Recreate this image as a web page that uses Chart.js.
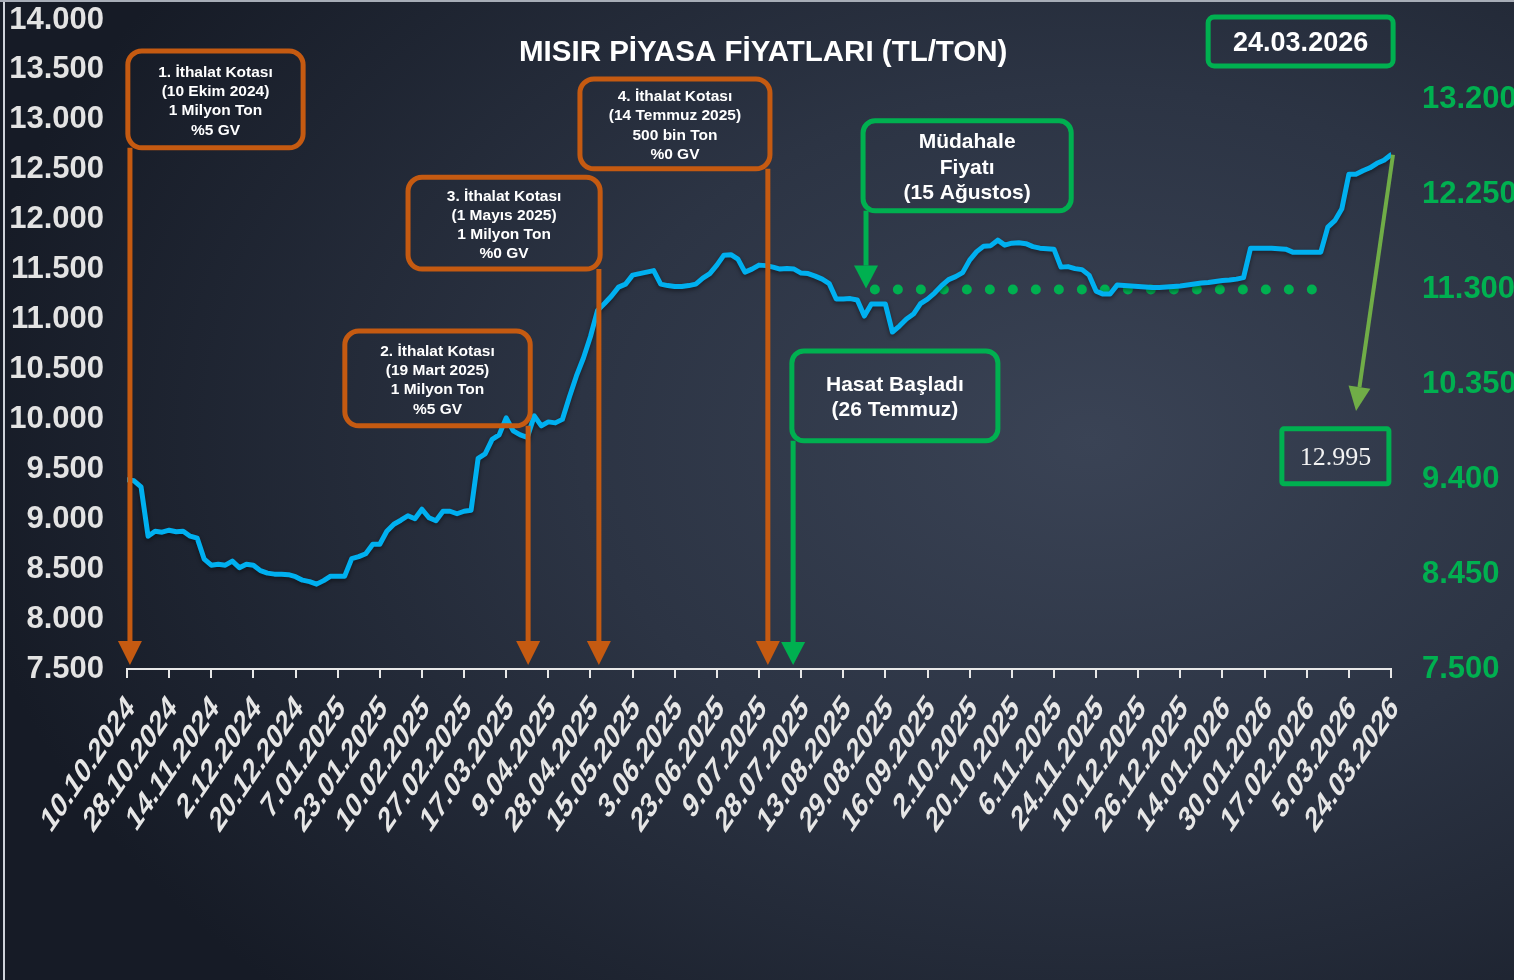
<!DOCTYPE html>
<html>
<head>
<meta charset="utf-8">
<script src="https://cdn.jsdelivr.net/npm/chart.js@4.4.1/dist/chart.umd.min.js"></script>
<style>
    html, body { margin: 0; padding: 0; }
    body {
        width: 1514px; height: 980px; overflow: hidden; position: relative;
        background: radial-gradient(ellipse 75% 80% at 72% 45%, #3a4355 0%, #2c3444 45%, #161b26 100%);
    }
    #frame-left { position: absolute; left: 3px; top: 0; width: 2px; height: 980px; background: #cfd3da; }
    #frame-top { position: absolute; left: 0; top: 0; width: 1514px; height: 2px; background: #a7adb7; }
    #chart-box { position: absolute; left: 0; top: 0; width: 1514px; height: 980px; }
</style>
</head>
<body>
<div id="chart-box"><canvas id="corn-chart"></canvas></div>
<div id="frame-left"></div>
<div id="frame-top"></div>
<script>
    "use strict";

    // tick dates on the x axis
    const dateLabels = [
        '10.10.2024', '28.10.2024', '14.11.2024', '2.12.2024', '20.12.2024', '7.01.2025',
        '23.01.2025', '10.02.2025', '27.02.2025', '17.03.2025', '9.04.2025', '28.04.2025',
        '15.05.2025', '3.06.2025', '23.06.2025', '9.07.2025', '28.07.2025', '13.08.2025',
        '29.08.2025', '16.09.2025', '2.10.2025', '20.10.2025', '6.11.2025', '24.11.2025',
        '10.12.2025', '26.12.2025', '14.01.2026', '30.01.2026', '17.02.2026', '5.03.2026',
        '24.03.2026'
    ];

    // prices, 6 readings between two date ticks
    const pointsPerLabel = 6;
    const cornPrice = [
        9395, 9385, 9325, 8830, 8880, 8870, 8890, 8875, 8880, 8830, 8810, 8600,
        8540, 8550, 8540, 8580, 8515, 8550, 8540, 8485, 8460, 8450, 8450, 8445,
        8425, 8390, 8375, 8350, 8385, 8430, 8430, 8430, 8605, 8625, 8655, 8750,
        8750, 8880, 8950, 8990, 9035, 9005, 9100, 9015, 8985, 9080, 9080, 9055,
        9080, 9090, 9610, 9655, 9800, 9845, 10015, 9885, 9845, 9820, 10035, 9935,
        9975, 9965, 10000, 10225, 10435, 10615, 10830, 11090, 11160, 11235, 11325, 11355,
        11445, 11460, 11475, 11490, 11355, 11340, 11330, 11330, 11340, 11355, 11415, 11460,
        11545, 11645, 11650, 11605, 11475, 11505, 11545, 11540, 11525, 11505, 11510, 11505,
        11465, 11460, 11435, 11405, 11360, 11205, 11205, 11210, 11195, 11035, 11155, 11155,
        11155, 10875, 10935, 11005, 11055, 11160, 11205, 11265, 11340, 11400, 11430, 11470,
        11595, 11680, 11735, 11740, 11795, 11745, 11765, 11770, 11760, 11730, 11715, 11710,
        11705, 11525, 11530, 11510, 11500, 11445, 11285, 11255, 11255, 11345, 11340, 11335,
        11330, 11325, 11320, 11320, 11325, 11330, 11335, 11345, 11355, 11365, 11370, 11380,
        11390, 11395, 11405, 11420, 11715, 11715, 11715, 11715, 11710, 11705, 11675, 11675,
        11675, 11675, 11675, 11925, 11990, 12110, 12455, 12455, 12490, 12520, 12565, 12595,
        12650
    ];

    const leftTicks = [7500, 8000, 8500, 9000, 9500, 10000, 10500, 11000, 11500, 12000, 12500, 13000, 13500, 14000];
    const rightTicks = [7500, 8450, 9400, 10350, 11300, 12250, 13200];

    const interventionPrice = 11300;
    const interventionSpan = [17.75, 28.65];

    const chartTitle = 'MISIR PİYASA FİYATLARI (TL/TON)';
    const reportDate = '24.03.2026';
    const lastQuote = '12.995';

    // callouts: box = [xFrom, xTo, yTop, yBottom] in axis units
    const quotaNotes = [
        { lines: ['1. İthalat Kotası', '(10 Ekim 2024)', '1 Milyon Ton', '%5 GV'], box: [0.02, 4.18, 13690, 12720], arrowX: 0.07 },
        { lines: ['2. İthalat Kotası', '(19 Mart 2025)', '1 Milyon Ton', '%5 GV'], box: [5.17, 9.57, 10885, 9935], arrowX: 9.52 },
        { lines: ['3. İthalat Kotası', '(1 Mayıs 2025)', '1 Milyon Ton', '%0 GV'], box: [6.67, 11.23, 12425, 11505], arrowX: 11.2 },
        { lines: ['4. İthalat Kotası', '(14 Temmuz 2025)', '500 bin Ton', '%0 GV'], box: [10.75, 15.26, 13410, 12510], arrowX: 15.21 }
    ];
    const greenNotes = [
        { lines: ['Müdahale', 'Fiyatı', '(15 Ağustos)'], box: [17.47, 22.41, 12990, 12090], arrowX: 17.54, arrowTo: 11310 },
        { lines: ['Hasat Başladı', '(26 Temmuz)'], box: [15.78, 20.67, 10685, 9785], arrowX: 15.81, arrowTo: 7540 }
    ];
    const dateBox = [25.66, 30.05, 14030, 13540];
    const quoteBox = [27.41, 29.95, 9905, 9355];
    const quoteArrowEnd = [29.17, 10085];

    const ORANGE = '#C55A11';
    const GREEN = '#00B050';
    const OLIVE = '#70AD47';
    const BLUE = '#00B0F0';
    const FONT = '"Liberation Sans", Arial, sans-serif';

    function dotted(v) {
        return String(v).replace(/\B(?=(\d{3})+(?!\d))/g, '.');
    }

    let priceSeries = cornPrice.map((v, i) => ({ x: i / pointsPerLabel, y: v }));
    let interventionSeries = interventionSpan.map(x => ({ x: x, y: interventionPrice }));

    function roundBox(ctx, x0, y0, x1, y1, r) {
        ctx.beginPath();
        ctx.moveTo(x0 + r, y0);
        ctx.arcTo(x1, y0, x1, y1, r);
        ctx.arcTo(x1, y1, x0, y1, r);
        ctx.arcTo(x0, y1, x0, y0, r);
        ctx.arcTo(x0, y0, x1, y0, r);
        ctx.closePath();
    }

    function arrow(ctx, x0, y0, x1, y1, color, width, headLen, headHalf) {
        let ang = Math.atan2(y1 - y0, x1 - x0);
        let bx = x1 - Math.cos(ang) * headLen;
        let by = y1 - Math.sin(ang) * headLen;
        ctx.strokeStyle = color;
        ctx.fillStyle = color;
        ctx.lineWidth = width;
        ctx.lineCap = 'butt';
        ctx.beginPath();
        ctx.moveTo(x0, y0);
        ctx.lineTo(bx, by);
        ctx.stroke();
        ctx.beginPath();
        ctx.moveTo(x1, y1);
        ctx.lineTo(bx + Math.sin(ang) * headHalf, by - Math.cos(ang) * headHalf);
        ctx.lineTo(bx - Math.sin(ang) * headHalf, by + Math.cos(ang) * headHalf);
        ctx.closePath();
        ctx.fill();
    }

    function textBlock(ctx, lines, cx, cy, font, lineH, color) {
        ctx.font = font;
        ctx.fillStyle = color;
        ctx.textAlign = 'center';
        ctx.textBaseline = 'middle';
        let y = cy - (lines.length - 1) * lineH / 2;
        lines.forEach(l => {
            ctx.fillText(l, cx, y);
            y += lineH;
        });
    }

    function noPadding(s) {
        s.paddingTop = 0;
        s.paddingBottom = 0;
        s.paddingLeft = 0;
        s.paddingRight = 0;
    }

    const lineShadow = {
        id: 'lineShadow',
        beforeDatasetDraw(chart, args) {
            if (args.index !== 0) return;
            let ctx = chart.ctx;
            ctx.save();
            ctx.shadowColor = 'rgba(0, 0, 0, 0.45)';
            ctx.shadowBlur = 4;
            ctx.shadowOffsetY = 2;
        },
        afterDatasetDraw(chart, args) {
            if (args.index !== 0) return;
            chart.ctx.restore();
        }
    };

    const callouts = {
        id: 'callouts',
        afterDatasetsDraw(chart) {
            let ctx = chart.ctx;
            let xs = chart.scales.x;
            let ys = chart.scales.y;
            let X = v => xs.getPixelForValue(v);
            let Y = v => ys.getPixelForValue(v);

            ctx.save();

            // date labels, slanted
            ctx.font = 'bold 24px ' + FONT;
            ctx.fillStyle = '#e6e6e6';
            ctx.textAlign = 'right';
            ctx.textBaseline = 'middle';
            dateLabels.forEach((lab, i) => {
                ctx.save();
                ctx.translate(X(i) + 4, xs.top + 34);
                ctx.scale(1, 1.46);
                ctx.rotate(-Math.PI / 4);
                ctx.fillText(lab, 0, 0);
                ctx.restore();
            });

            // title
            textBlock(ctx, [chartTitle], X(15.1), Y(13690) + 2, 'bold 29.5px ' + FONT, 30, '#ffffff');

            // import quota callouts
            quotaNotes.forEach(n => {
                let [a, b, t, u] = n.box;
                ctx.strokeStyle = ORANGE;
                ctx.lineWidth = 5;
                roundBox(ctx, X(a), Y(t), X(b), Y(u), 14);
                ctx.stroke();
                arrow(ctx, X(n.arrowX), Y(u), X(n.arrowX), Y(7540), ORANGE, 5, 24, 12);
                textBlock(ctx, n.lines, (X(a) + X(b)) / 2, (Y(t) + Y(u)) / 2 + 2, 'bold 15.5px ' + FONT, 19.3, '#ffffff');
            });

            // green callouts
            greenNotes.forEach(n => {
                let [a, b, t, u] = n.box;
                ctx.strokeStyle = GREEN;
                ctx.lineWidth = 5;
                roundBox(ctx, X(a), Y(t), X(b), Y(u), 12);
                ctx.stroke();
                arrow(ctx, X(n.arrowX), Y(u), X(n.arrowX), Y(n.arrowTo), GREEN, 5, 23, 12);
                textBlock(ctx, n.lines, (X(a) + X(b)) / 2, (Y(t) + Y(u)) / 2 + 2, 'bold 21px ' + FONT, 25.5, '#ffffff');
            });

            // report date
            ctx.strokeStyle = GREEN;
            ctx.lineWidth = 5;
            roundBox(ctx, X(dateBox[0]), Y(dateBox[2]), X(dateBox[1]), Y(dateBox[3]), 6);
            ctx.stroke();
            textBlock(ctx, [reportDate], (X(dateBox[0]) + X(dateBox[1])) / 2, (Y(dateBox[2]) + Y(dateBox[3])) / 2 + 2,
                'bold 27px ' + FONT, 30, '#ffffff');

            // last quote
            let last = cornPrice.length - 1;
            arrow(ctx, X(last / pointsPerLabel) + 2, Y(cornPrice[last]), X(quoteArrowEnd[0]), Y(quoteArrowEnd[1]),
                OLIVE, 4, 24, 11);
            ctx.strokeStyle = GREEN;
            ctx.lineWidth = 5;
            roundBox(ctx, X(quoteBox[0]), Y(quoteBox[2]), X(quoteBox[1]), Y(quoteBox[3]), 2);
            ctx.stroke();
            textBlock(ctx, [lastQuote], (X(quoteBox[0]) + X(quoteBox[1])) / 2, (Y(quoteBox[2]) + Y(quoteBox[3])) / 2 + 2,
                '26px "Liberation Serif", "Times New Roman", serif', 30, '#f2f2f2');

            ctx.restore();
        }
    };

    let chartConfig = {
        type: 'line',
        data: {
            datasets: [{
                label: 'Mısır',
                data: priceSeries,
                borderColor: BLUE,
                borderWidth: 5,
                pointRadius: 0,
                tension: 0,
                borderJoinStyle: 'round',
                borderCapStyle: 'round',
                yAxisID: 'y'
            }, {
                label: 'Müdahale Fiyatı',
                data: interventionSeries,
                borderColor: GREEN,
                borderWidth: 10,
                borderDash: [0, 23],
                borderCapStyle: 'round',
                pointRadius: 0,
                yAxisID: 'y2'
            }]
        },
        options: {
            responsive: false,
            animation: false,
            layout: { padding: { top: 20, left: 0, right: 0, bottom: 0 } },
            plugins: {
                legend: { display: false },
                tooltip: { enabled: false }
            },
            scales: {
                x: {
                    type: 'linear',
                    position: 'bottom',
                    min: 0,
                    max: dateLabels.length - 1,
                    afterBuildTicks: s => { s.ticks = dateLabels.map((d, i) => ({ value: i })); },
                    afterFit: s => { s.height = 311; noPadding(s); },
                    ticks: { display: false },
                    grid: { display: true, drawOnChartArea: false, drawTicks: true, tickLength: 9, color: '#e8e8e8', lineWidth: 2 },
                    border: { display: true, color: '#e8e8e8', width: 2 }
                },
                y: {
                    position: 'left',
                    min: 7500,
                    max: 14000,
                    afterBuildTicks: s => { s.ticks = leftTicks.map(v => ({ value: v })); },
                    afterFit: s => { s.width = 127; noPadding(s); },
                    ticks: {
                        autoSkip: false,
                        padding: 23,
                        color: '#e3e3e3',
                        font: { family: FONT, size: 31, weight: 'bold' },
                        callback: v => dotted(v)
                    },
                    grid: { display: false, drawTicks: false },
                    border: { display: false }
                },
                y2: {
                    position: 'right',
                    min: 7500,
                    max: 14000,
                    afterBuildTicks: s => { s.ticks = rightTicks.map(v => ({ value: v })); },
                    afterFit: s => { s.width = 123; noPadding(s); },
                    ticks: {
                        autoSkip: false,
                        padding: 31,
                        color: GREEN,
                        font: { family: FONT, size: 31, weight: 'bold' },
                        callback: v => dotted(v)
                    },
                    grid: { display: false, drawTicks: false },
                    border: { display: false }
                }
            }
        },
        plugins: [lineShadow, callouts]
    };

    let canvas = document.getElementById('corn-chart');
    canvas.width = 1514;
    canvas.height = 980;
    new Chart(canvas, chartConfig);
</script>
</body>
</html>
